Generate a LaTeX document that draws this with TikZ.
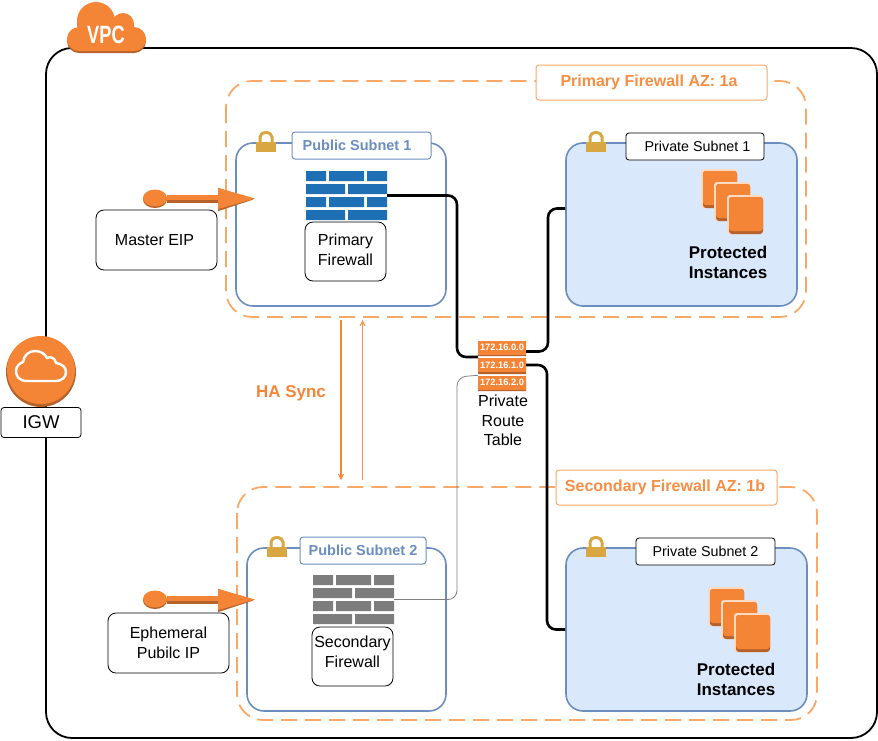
\documentclass[tikz,border=0pt]{standalone}
\usepackage{fontspec}
\setmainfont{Liberation Sans}
\usetikzlibrary{arrows.meta,shapes.geometric}
\definecolor{awsorange}{HTML}{F58536}
\definecolor{awsdark}{HTML}{B8622B}
\definecolor{azdash}{HTML}{F9A868}
\definecolor{subnetblue}{HTML}{6C8EBF}
\definecolor{subnetfill}{HTML}{DAE8FC}
\definecolor{lockgold}{HTML}{D9A741}
\definecolor{wallgray}{HTML}{7D7D7D}
\definecolor{wallblue}{HTML}{1F6FB5}
\tikzset{
  txt/.style={font=\fontsize{16}{19.5}\selectfont,align=center,inner sep=0pt},
  vpcbox/.style={draw=black,line width=1.8pt,rounded corners=26pt},
  azbox/.style={draw=azdash,line width=1.8pt,dash pattern=on 16pt off 8pt,rounded corners=26pt},
  pubnet/.style={draw=subnetblue,line width=1.6pt,rounded corners=17pt,inner sep=0pt},
  privnet/.style={pubnet,fill=subnetfill},
  azlabel/.style={txt,draw=azdash,line width=1pt,fill=white,rounded corners=3pt,text=azdash!25!awsorange,font=\fontsize{16}{17}\bfseries\selectfont},
  publabel/.style={txt,draw=subnetblue,line width=1pt,fill=white,rounded corners=3pt,text=subnetblue,font=\fontsize{14.5}{15}\bfseries\selectfont},
  privlabel/.style={txt,draw=black,line width=.8pt,fill=white,rounded corners=3pt,font=\fontsize{14.3}{15}\selectfont},
  namebox/.style={txt,draw=black,line width=.8pt,fill=white,rounded corners=8pt},
  routebox/.style={inner sep=0pt,fill=awsorange,text=white,minimum width=48pt,minimum height=14pt,font=\fontsize{9.3}{10}\bfseries\selectfont},
  boldtxt/.style={txt,font=\fontsize{17}{20}\bfseries\selectfont},
  wire/.style={draw=black,line width=2.6pt,rounded corners=9pt},
  thinwire/.style={draw=gray,line width=.8pt,rounded corners=9pt},
  synctip/.style={-{Stealth[length=10pt,width=10pt,inset=7pt]}},
  ipball/.style={ellipse,inner sep=0pt,minimum width=24pt,minimum height=17pt},
  iparrow/.style={line width=7pt,-{Triangle[length=37pt,width=21pt]}},
  iphead/.style={line width=1pt,-{Triangle[length=37pt,width=21pt]}}
}
\newcommand{\lockicon}[2]{% x, y of the body's top left corner
  \draw[lockgold,line width=3pt] (#1+4,#2) -- (#1+4,#2-5) arc[start angle=180,end angle=0,x radius=6pt,y radius=4.5pt] -- (#1+16,#2);
  \fill[lockgold] (#1,#2) rectangle (#1+20,#2+10);
}
\newcommand{\brickwall}[3]{% x, y of top left corner, colour
  \foreach \r in {0,26}{
    \fill[#3] (#1,#2+\r) rectangle (#1+20,#2+\r+10) (#1+23,#2+\r) rectangle (#1+58,#2+\r+10) (#1+61,#2+\r) rectangle (#1+81,#2+\r+10);
    \fill[#3] (#1,#2+\r+13) rectangle (#1+39,#2+\r+23) (#1+42,#2+\r+13) rectangle (#1+81,#2+\r+23);
  }
}
\newcommand{\instanceicons}[2]{% x, y of top left corner
  \foreach \d in {0,13,26}{
    \fill[white!70!awsorange,rounded corners=3pt] (#1+\d-2,#2+\d-2) rectangle (#1+\d+34,#2+\d+37);
    \fill[awsdark,rounded corners=3pt] (#1+\d,#2+\d) rectangle (#1+\d+34,#2+\d+37);
    \fill[awsorange,rounded corners=3pt] (#1+\d,#2+\d) rectangle (#1+\d+34,#2+\d+34);
  }
}
\begin{document}
\begin{tikzpicture}[x=1pt,y=-1pt]
\useasboundingbox (0,0) rectangle (878,740);
% outer box and the two zones
\draw[vpcbox] (46,48) rectangle (877,738);
\draw[azbox] (226,81) rectangle (806,317);
\draw[azbox] (237,487) rectangle (817,720);
% subnets
\node[pubnet,minimum width=210pt,minimum height=163pt] (pub1) at (341,224.5) {};
\node[pubnet,minimum width=199pt,minimum height=163pt] (pub2) at (346.5,629.5) {};
\node[privnet,minimum width=231pt,minimum height=163pt] (priv1) at (681.5,224.5) {};
\node[privnet,minimum width=241pt,minimum height=163pt] (priv2) at (686.5,629.5) {};
% route table
\fill[awsdark] (478,343) rectangle (526,356) (478,360) rectangle (526,374) (478,378) rectangle (526,391);
\node[routebox] (rt0) at (502,347.5) {172.16.0.0};
\node[routebox] (rt1) at (502,365) {172.16.1.0};
\node[routebox] (rt2) at (502,382.5) {172.16.2.0};
\node[txt] (rtname) at (503,420.5) {Private\\Route\\Table};
% firewalls
\node[inner sep=0pt,minimum width=81pt,minimum height=49pt] (fw1) at (346.5,195.5) {};
\node[inner sep=0pt,minimum width=81pt,minimum height=49pt] (fw2) at (353.5,599.5) {};
\brickwall{306}{171}{wallblue}
\brickwall{313}{575}{wallgray}
\node[namebox,minimum width=81pt,minimum height=59pt] (fw1name) at (345.5,251.5) {Primary\\Firewall\\[-16pt]\mbox{}};
\node[namebox,minimum width=81pt,minimum height=59pt] (fw2name) at (352.5,656.5) {Secondary\\Firewall\\[-10pt]\mbox{}};
% connectors
\coordinate (bend1) at (457,357);
\coordinate (bend2) at (457,377);
\draw[wire] (fw1.east) -| (bend1) -- (rt0.south west |- bend1);
\draw[wire] ([yshift=-4pt]rt0.east) -| (548,280) |- ([yshift=16pt]priv1.west);
\draw[wire] (rt1.east) -| (547,500) |- (priv2.west);
\draw[thinwire] (fw2.east) -| (bend2) -- (rt2.north west);
% zone and subnet labels
\node[azlabel,minimum width=231pt,minimum height=35pt] (az1) at (651.5,82.5) {\raisebox{-1pt}{Primary Firewall AZ: 1a}\hspace{5pt}};
\node[azlabel,minimum width=221pt,minimum height=35pt] (az2) at (666.5,487.5) {\raisebox{-1pt}{Secondary Firewall AZ: 1b}\hspace{3pt}};
\node[publabel,minimum width=139pt,minimum height=27pt] (pub1name) at (361.5,145.5) {\raisebox{-1pt}{Public Subnet 1}\hspace{9pt}};
\node[publabel,minimum width=126pt,minimum height=27pt] (pub2name) at (363,550.5) {\raisebox{-1pt}{Public Subnet 2}};
\node[privlabel,minimum width=138pt,minimum height=27pt] (priv1name) at (695,146.5) {\hspace{5pt}Private Subnet 1};
\node[privlabel,minimum width=139pt,minimum height=27pt] (priv2name) at (705.5,551.5) {Private Subnet 2};
\lockicon{256}{142}
\lockicon{267}{547}
\lockicon{586}{142}
\lockicon{586}{547}
% instances
\instanceicons{703}{171}
\instanceicons{710}{589}
\node[boldtxt] (inst1) at (728,262) {Protected\\Instances};
\node[boldtxt] (inst2) at (736,679) {Protected\\Instances};
% elastic ip arrows
\node[ipball,fill=awsdark] (ball1s) at (155,199.5) {};
\node[ipball,fill=awsorange] (ball1) at (155,198) {};
\coordinate (tip1) at (255,199.5);
\draw[iparrow,awsdark] (ball1s.east) -- (tip1);
\draw[awsorange,line width=5pt] (ball1.east |- 0,197) -- (225,197);
\draw[iphead,awsorange] (215,198.5) -- (255,198.5);
\node[namebox,minimum width=121pt,minimum height=60pt] (eip1) at (156.5,240) {Master EIP\hspace{4pt}};
\node[ipball,fill=awsdark] (ball2s) at (155,600.5) {};
\node[ipball,fill=awsorange] (ball2) at (155,599) {};
\coordinate (tip2) at (255,600.5);
\draw[iparrow,awsdark] (ball2s.east) -- (tip2);
\draw[awsorange,line width=5pt] (ball2.east |- 0,598) -- (225,598);
\draw[iphead,awsorange] (215,599.5) -- (255,599.5);
\node[namebox,minimum width=121pt,minimum height=60pt] (eip2) at (168.5,643) {Ephemeral\hspace{4pt}\\Pubilc IP\hspace{4pt}};
% ha sync
\coordinate (sync1a) at (341,320);
\coordinate (sync1b) at (341,480);
\coordinate (sync2a) at (362.5,480);
\coordinate (sync2b) at (362.5,320);
\draw[awsorange,line width=1.5pt,synctip] (sync1a) -- (sync1b);
\draw[azdash!40!awsorange,line width=1.8pt,synctip] (sync2a) -- (sync2b);
\node[txt,text=awsorange,font=\fontsize{17}{18}\bfseries\selectfont] (hasynctxt) at (291,393) {HA Sync};
% internet gateway
\fill[awsdark] (41,372) circle[radius=35pt];
\fill[awsorange] (41,370) circle[radius=34pt];
\draw[white,line width=2.4pt] (27,381) .. controls (19,381) and (16,376) .. (16,371) .. controls (16,366) and (20,363) .. (23,362) .. controls (24,355) and (29,351) .. (35,351) .. controls (41,351) and (45,354) .. (47,358) .. controls (51,356) and (55,358) .. (56,363) .. controls (62,364) and (66,367) .. (66,372) .. controls (66,377) and (62,381) .. (56,381) -- cycle;
\node[txt,draw=black,line width=.8pt,fill=white,rounded corners=3pt,minimum width=80pt,minimum height=30pt,font=\fontsize{18.5}{20}\selectfont] (igw) at (41,422.5) {IGW};
% vpc cloud
\begin{scope}[awsdark,yshift=-2pt]
\fill (79,39) circle[radius=12pt] (96,21) circle[radius=19pt] (123,24) circle[radius=11pt] (134,39) circle[radius=12pt] (79,28) rectangle (134,51);
\end{scope}
\fill[awsorange] (79,39) circle[radius=12pt] (96,21) circle[radius=19pt] (123,24) circle[radius=11pt] (134,39) circle[radius=12pt] (79,28) rectangle (134,51);
\node[inner sep=0pt,text=white,font=\fontsize{25}{25}\bfseries\selectfont] (vpc) at (106,35) {\scalebox{.73}[1]{VPC}};
\end{tikzpicture}
\end{document}
